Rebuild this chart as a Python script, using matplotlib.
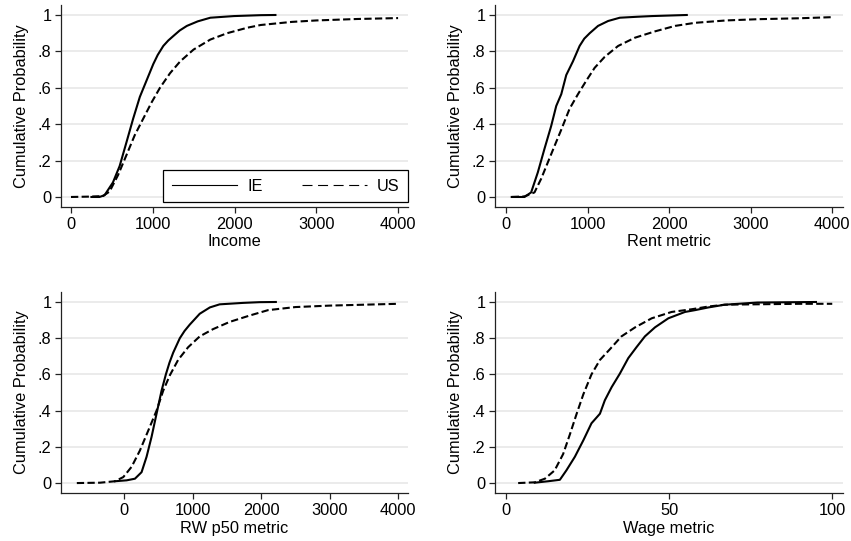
import matplotlib
matplotlib.use("Agg")
import matplotlib.pyplot as plt
from matplotlib.lines import Line2D

plt.rcParams['font.family'] = ['Liberation Sans', 'DejaVu Sans']
plt.rcParams['font.size'] = 11.8

income_ie_x = [250, 349, 411, 513, 595, 678, 760, 842, 924, 1006, 1060, 1129, 1190, 1253, 1330, 1417, 1550, 1704, 1992, 2320, 2500]
income_ie_y = [0, 0, 0.01, 0.08, 0.17, 0.30, 0.43, 0.55, 0.64, 0.73, 0.78, 0.83, 0.86, 0.885, 0.915, 0.94, 0.965, 0.985, 0.994, 0.999, 1.0]
income_us_x = [0, 226, 390, 472, 575, 678, 780, 883, 986, 1088, 1211, 1335, 1499, 1704, 1910, 2156, 2320, 2700, 3000, 3500, 4000]
income_us_y = [0, 0.002, 0.005, 0.03, 0.12, 0.23, 0.34, 0.43, 0.52, 0.60, 0.68, 0.745, 0.81, 0.865, 0.90, 0.93, 0.945, 0.962, 0.97, 0.978, 0.983]

rent_ie_x = [70, 226, 308, 390, 472, 554, 616, 678, 739, 821, 903, 960, 1027, 1129, 1253, 1396, 1600, 1786, 2218]
rent_ie_y = [0, 0, 0.025, 0.135, 0.265, 0.39, 0.50, 0.565, 0.67, 0.745, 0.83, 0.87, 0.90, 0.94, 0.967, 0.985, 0.99, 0.994, 1.0]
rent_us_x = [70, 226, 349, 431, 513, 595, 678, 780, 883, 986, 1088, 1211, 1376, 1581, 1828, 2074, 2320, 2700, 3100, 3600, 4000]
rent_us_y = [0, 0.003, 0.025, 0.10, 0.19, 0.28, 0.37, 0.485, 0.565, 0.64, 0.71, 0.77, 0.83, 0.875, 0.91, 0.94, 0.957, 0.97, 0.977, 0.982, 0.988]

rw_ie_x = [-136, 34, 155, 252, 325, 398, 471, 544, 607, 660, 714, 811, 880, 956, 1102, 1250, 1393, 1733, 1976, 2214]
rw_ie_y = [0.01, 0.015, 0.024, 0.06, 0.145, 0.255, 0.383, 0.51, 0.60, 0.665, 0.72, 0.80, 0.84, 0.875, 0.935, 0.97, 0.987, 0.995, 0.999, 1.0]
rw_us_x = [-694, -354, -136, -15, 107, 228, 350, 471, 568, 665, 786, 932, 1102, 1296, 1539, 1830, 2100, 2500, 3000, 3500, 4000]
rw_us_y = [0, 0.002, 0.01, 0.033, 0.09, 0.18, 0.29, 0.40, 0.51, 0.595, 0.68, 0.75, 0.81, 0.85, 0.89, 0.925, 0.955, 0.972, 0.98, 0.985, 0.99]

wage_ie_x = [8.7, 12.8, 16.4, 18.4, 21.0, 23.6, 26.1, 28.7, 30.2, 32.3, 34.8, 37.4, 39.9, 42.5, 45.6, 49.7, 54.8, 57.9, 62, 67, 77, 95]
wage_ie_y = [0.002, 0.01, 0.018, 0.07, 0.145, 0.236, 0.33, 0.383, 0.457, 0.53, 0.604, 0.69, 0.75, 0.81, 0.86, 0.91, 0.945, 0.955, 0.97, 0.985, 0.997, 1.0]
wage_us_x = [3.6, 8.7, 11.8, 14.8, 17.4, 19.5, 21.5, 23.6, 26.1, 28.7, 31.8, 35.3, 39.5, 44.6, 50.7, 56.9, 62, 67, 80, 90, 100]
wage_us_y = [0, 0.004, 0.024, 0.07, 0.16, 0.27, 0.38, 0.49, 0.60, 0.68, 0.74, 0.81, 0.86, 0.91, 0.945, 0.96, 0.975, 0.985, 0.988, 0.99, 0.99]

y_ticks = [0, 0.2, 0.4, 0.6, 0.8, 1]
y_tick_labels = ['0', '.2', '.4', '.6', '.8', '1']
big_ticks = [0, 1000, 2000, 3000, 4000]
wage_ticks = [0, 50, 100]


def setup_axes(ax, xlabel, xticks, xlim):
    ax.set_xlim(*xlim)
    ax.set_ylim(-0.055, 1.055)
    ax.set_xticks(xticks)
    ax.set_xticklabels([str(t) for t in xticks])
    ax.set_yticks(y_ticks)
    ax.set_yticklabels(y_tick_labels)
    ax.set_xlabel(xlabel, labelpad=2)
    ax.set_ylabel('Cumulative Probability', labelpad=6)
    ax.grid(axis='y', color='#e6e6e6', lw=1.1)
    ax.set_axisbelow(True)
    for side in ('top', 'right'):
        ax.spines[side].set_visible(False)
    for side in ('left', 'bottom'):
        ax.spines[side].set_color('#222222')
        ax.spines[side].set_linewidth(0.9)
    ax.tick_params(direction='out', length=4, width=0.9, color='#222222', pad=3)


def draw(ax, ie_x, ie_y, us_x, us_y):
    ax.plot(ie_x, ie_y, color='black', lw=1.5, solid_joinstyle='round')
    ax.plot(us_x, us_y, color='black', lw=1.5, ls=(0, (3.5, 1.6)))


fig = plt.figure(figsize=(8.51, 5.41), dpi=100)
ax1 = fig.add_axes([0.0717, 0.6174, 0.4078, 0.3734])
ax2 = fig.add_axes([0.5817, 0.6174, 0.4089, 0.3734])
ax3 = fig.add_axes([0.0717, 0.0887, 0.4078, 0.3715])
ax4 = fig.add_axes([0.5817, 0.0887, 0.4089, 0.3715])

draw(ax1, income_ie_x, income_ie_y, income_us_x, income_us_y)
setup_axes(ax1, 'Income', big_ticks, (-122, 4122))

draw(ax2, rent_ie_x, rent_ie_y, rent_us_x, rent_us_y)
setup_axes(ax2, 'Rent metric', big_ticks, (-135, 4135))

draw(ax3, rw_ie_x, rw_ie_y, rw_us_x, rw_us_y)
setup_axes(ax3, 'RW p50 metric', big_ticks, (-925, 4146))

draw(ax4, wage_ie_x, wage_ie_y, wage_us_x, wage_us_y)
setup_axes(ax4, 'Wage metric', wage_ticks, (-3.5, 103.3))

# legend handles are drawn thinner than the curves, like the original
h_ie = Line2D([], [], color='black', lw=0.8)
h_us = Line2D([], [], color='black', lw=0.8, ls=(0, (9, 5)))
leg = ax1.legend(handles=[h_ie, h_us], labels=['IE', 'US'], ncol=2,
                 loc='lower right', bbox_to_anchor=(1.0, 0.026), borderaxespad=0,
                 handlelength=4.0, columnspacing=2.4, handletextpad=0.6,
                 fancybox=False, framealpha=1, edgecolor='black', borderpad=0.5)
leg.get_frame().set_linewidth(0.9)

fig.savefig('out.png', dpi=100)
